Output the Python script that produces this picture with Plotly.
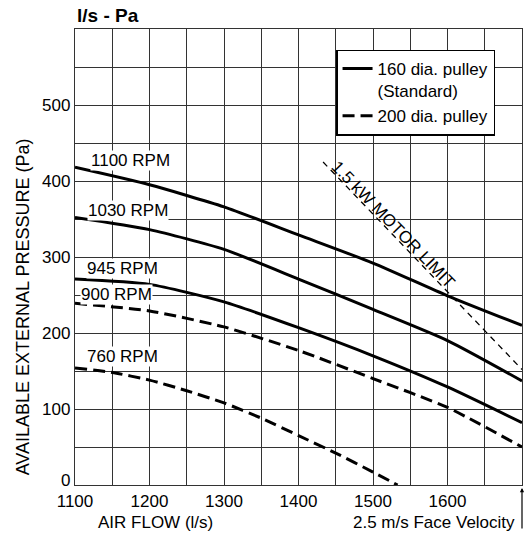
import plotly.graph_objects as go

# ---- data ----
airflow = [1100, 1200, 1300, 1400, 1500, 1600, 1700]
rpm_1100 = [418, 395, 366, 329, 292, 249, 210]
rpm_1030 = [352, 336, 310, 271, 231, 190, 137]
rpm_945 = [271, 264, 241, 207, 170, 129, 82]
rpm_900 = [239, 229, 208, 177, 140, 102, 50]
airflow_760 = [1100, 1150, 1200, 1250, 1300, 1350, 1400, 1450, 1500, 1533]
rpm_760 = [154, 148, 138, 124, 108, 88, 65, 42, 17, 0]
motor_x = [1433, 1700]
motor_y = [425, 152]

x_ticks = list(range(1100, 1701, 50))
x_labels = [str(v) if (v % 100 == 0 and v <= 1600) else "" for v in x_ticks]
y_ticks = list(range(0, 601, 50))
y_labels = [str(v) if (v % 100 == 0 and 0 < v <= 500) else "" for v in y_ticks]
y_zero_label = "0"

rpm_labels = ["1100 RPM", "1030 RPM", "945 RPM", "900 RPM", "760 RPM"]
rpm_label_x = [1174, 1171, 1164, 1156, 1164]
rpm_label_y = [427, 361, 285, 251, 169]

FONT = "Liberation Sans, Arial, sans-serif"
fig = go.Figure()

solid = dict(color="black", width=3, shape="spline", smoothing=0.6)
dashed = dict(color="black", width=3, dash="12px,6px", shape="spline", smoothing=0.6)

fig.add_trace(go.Scatter(x=motor_x, y=motor_y, mode="lines",
                         line=dict(color="black", width=1.3, dash="6px,5px"),
                         showlegend=False, hoverinfo="skip"))
fig.add_trace(go.Scatter(x=airflow, y=rpm_1100, mode="lines", line=solid,
                         name="160 dia. pulley<br>(Standard)", legendrank=1))
fig.add_trace(go.Scatter(x=airflow, y=rpm_1030, mode="lines", line=solid, showlegend=False))
fig.add_trace(go.Scatter(x=airflow, y=rpm_945, mode="lines", line=solid, showlegend=False))
fig.add_trace(go.Scatter(x=airflow, y=rpm_900, mode="lines", line=dashed,
                         name="200 dia. pulley", legendrank=2))
fig.add_trace(go.Scatter(x=airflow_760, y=rpm_760, mode="lines", line=dashed, showlegend=False))

annotations = []
for t, xx, yy in zip(rpm_labels, rpm_label_x, rpm_label_y):
    annotations.append(dict(x=xx, y=yy, xref="x", yref="y", text=t, showarrow=False,
                            font=dict(size=17, color="black"), bgcolor="white", borderpad=0))

annotations += [
    dict(x=0, y=0, xref="paper", yref="y", xanchor="right", yanchor="middle",
         xshift=-3, yshift=5, text=y_zero_label, showarrow=False,
         font=dict(size=17, color="black")),
    dict(x=1527, y=343, xref="x", yref="y", text="1.5 kW MOTOR LIMIT", showarrow=False,
         textangle=46, font=dict(size=17, color="black")),
    dict(x=0, y=1.0, xref="paper", yref="paper", xanchor="left", yanchor="bottom",
         yshift=1, text="<b>l/s - Pa</b>", showarrow=False, font=dict(size=19, color="black")),
    dict(x=-0.116, y=0.39, xref="paper", yref="paper", xanchor="center", yanchor="middle",
         text="AVAILABLE EXTERNAL PRESSURE (Pa)",
         textangle=-90, showarrow=False, font=dict(size=18, color="black")),
    dict(x=1208, y=0, xref="x", yref="paper", xanchor="center", yanchor="middle", yshift=-37,
         text="AIR FLOW (l/s)", showarrow=False, font=dict(size=17, color="black")),
    dict(x=1700, y=0, xref="x", yref="paper", xanchor="right", yanchor="middle",
         xshift=-5, yshift=-37,
         text="2.5 m/s Face Velocity", showarrow=False, font=dict(size=17, color="black")),
    dict(x=1700, y=0, xref="x", yref="paper", yshift=-3, ax=0, ay=42, text="",
         showarrow=True, arrowhead=2, arrowsize=0.7, arrowwidth=1.2, arrowcolor="black"),
]

axis_common = dict(showgrid=True, gridcolor="#333", gridwidth=1.3, zeroline=False,
                   showline=True, linecolor="#333", linewidth=1.3, mirror=True,
                   ticks="", tickfont=dict(size=17, color="black"), tickmode="array")

fig.update_layout(
    width=525, height=533,
    margin=dict(l=75, r=3, t=29, b=48),
    paper_bgcolor="white", plot_bgcolor="white",
    font=dict(family=FONT, color="black"),
    showlegend=True,
    legend=dict(x=0.584, y=0.955, xanchor="left", yanchor="top",
                bgcolor="white", bordercolor="black", borderwidth=1.5,
                font=dict(size=17, color="black"), tracegroupgap=0,
                itemwidth=30, valign="top"),
    xaxis=dict(range=[1100, 1700], tickvals=x_ticks, ticktext=x_labels, **axis_common),
    yaxis=dict(range=[0, 600], tickvals=y_ticks, ticktext=y_labels, **axis_common),
    annotations=annotations,
)

fig.write_html("out.html")
